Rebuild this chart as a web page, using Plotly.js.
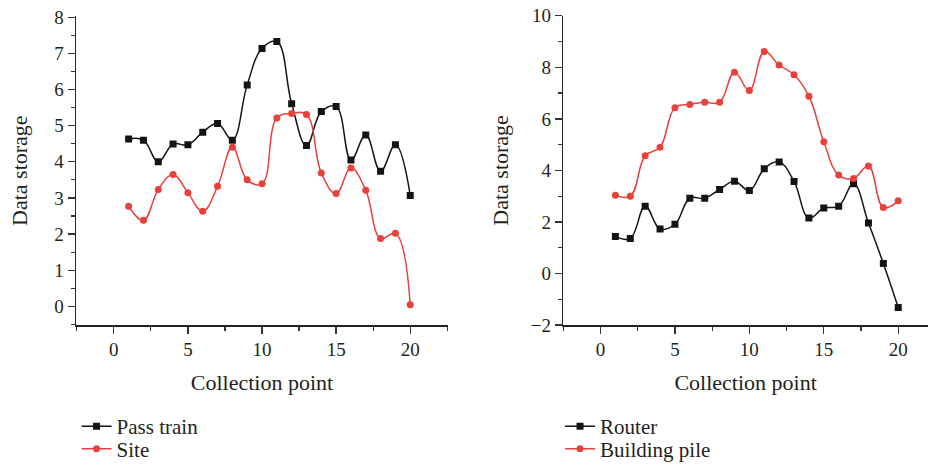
<!DOCTYPE html>
<html>
<head>
<meta charset="utf-8">
<script src="https://cdn.plot.ly/plotly-3.0.1.min.js"></script>
<style>html,body{margin:0;padding:0;background:#fff;overflow:hidden}</style>
</head>
<body>
<div id="chart" style="width:928px;height:470px"></div>
<script>
const points = [1,2,3,4,5,6,7,8,9,10,11,12,13,14,15,16,17,18,19,20];
const passTrain = [4.63,4.6,4.0,4.49,4.47,4.82,5.06,4.6,6.13,7.14,7.33,5.61,4.45,5.39,5.53,4.05,4.74,3.74,4.47,3.07];
const site = [2.77,2.38,3.23,3.65,3.14,2.63,3.32,4.4,3.5,3.39,5.21,5.34,5.31,3.69,3.12,3.83,3.21,1.88,2.02,0.04];
const router = [1.44,1.36,2.61,1.73,1.91,2.92,2.92,3.26,3.58,3.22,4.06,4.33,3.57,2.15,2.54,2.61,3.48,1.96,0.39,-1.32];
const buildingPile = [3.04,3.0,4.57,4.9,6.43,6.56,6.64,6.64,7.81,7.1,8.61,8.09,7.71,6.88,5.11,3.82,3.69,4.17,2.56,2.82];
const xTicks = [0,5,10,15,20];

const BLACK = '#141414';
const RED = '#e8413c';
const FONT = 'Liberation Serif, Times New Roman, serif';
const TXT = '#231f20';

function tr(x, y, name, color, symbol, xa, ya, leg) {
  return {
    x: x, y: y, name: name, type: 'scatter', mode: 'lines+markers',
    xaxis: xa, yaxis: ya, legend: leg,
    line: {color: color, width: 1.5, shape: 'spline', smoothing: 1.15},
    marker: {color: color, symbol: symbol, size: 7}
  };
}

const data = [
  tr(points, passTrain, 'Pass train', BLACK, 'square', 'x', 'y', 'legend'),
  tr(points, site, 'Site', RED, 'circle', 'x', 'y', 'legend2'),
  tr(points, router, 'Router', BLACK, 'square', 'x2', 'y2', 'legend3'),
  tr(points, buildingPile, 'Building pile', RED, 'circle', 'x2', 'y2', 'legend4')
];

function xaxis(domain, range, anchor) {
  return {
    domain: domain, range: range, anchor: anchor, automargin: false,
    showgrid: false, zeroline: false, showline: true, linecolor: '#222', linewidth: 1.5,
    ticks: 'outside', ticklen: 7, tickwidth: 1.3, tickcolor: '#333',
    tickvals: xTicks, ticktext: xTicks.map(String),
    minor: {ticks: 'outside', ticklen: 4, tickwidth: 1.2, tickcolor: '#333', dtick: 2.5, showgrid: false},
    tickfont: {family: FONT, size: 19, color: TXT},
    title: {text: 'Collection point', font: {family: FONT, size: 22, color: TXT}, standoff: 15}
  };
}
function yaxis(domain, range, dtick, minorD, anchor, standoff) {
  return {
    domain: domain, range: range, anchor: anchor, automargin: false,
    showgrid: false, zeroline: false, showline: true, linecolor: '#222', linewidth: 1.5,
    ticks: 'outside', ticklen: 7, tickwidth: 1.3, tickcolor: '#333',
    tick0: 0, dtick: dtick,
    minor: {ticks: 'outside', ticklen: 4, tickwidth: 1.2, tickcolor: '#333', dtick: minorD, showgrid: false},
    tickfont: {family: FONT, size: 19, color: TXT},
    title: {text: 'Data storage', font: {family: FONT, size: 22, color: TXT}, standoff: standoff}
  };
}

function leg(x, y) {
  return {x: x, y: y, xanchor: 'left', yanchor: 'middle', bgcolor: 'rgba(0,0,0,0)',
    font: {family: FONT, size: 21, color: TXT}, itemwidth: 30, tracegroupgap: 0};
}

const layout = {
  width: 928, height: 470,
  margin: {l: 0, r: 0, t: 0, b: 0},
  paper_bgcolor: '#fff', plot_bgcolor: '#fff',
  showlegend: true,
  xaxis: xaxis([0.0819, 0.4828], [-2.55, 22.55], 'y'),
  yaxis: yaxis([0.2979, 0.9649], [-0.52, 8.03], 1, 0.5, 'x', 20),
  xaxis2: xaxis([0.607, 1.0], [-2.5, 22.0], 'y2'),
  yaxis2: yaxis([0.2979, 0.966], [-2, 10], 2, 1, 'x2', 16),
  legend: leg(0.0825, 0.0787),
  legend2: leg(0.0825, 0.0298),
  legend3: leg(0.6035, 0.0787),
  legend4: leg(0.6035, 0.0298)
};

Plotly.newPlot('chart', data, layout, {displayModeBar: false, staticPlot: true});
</script>
</body>
</html>
